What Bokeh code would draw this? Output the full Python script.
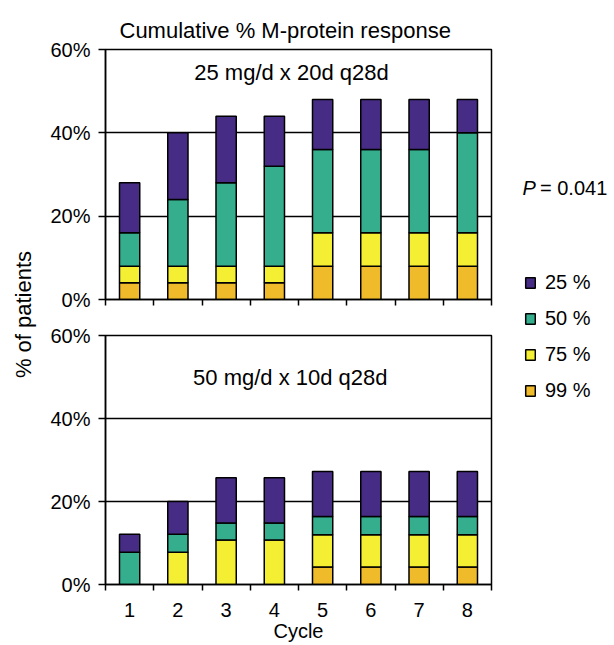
import math
from bokeh.plotting import figure
from bokeh.models import Range1d, FixedTicker, Label, Legend, LegendItem, ColumnDataSource
from bokeh.layouts import row, column
from bokeh.embed import file_html
from bokeh.resources import INLINE

FONT = "Liberation Sans"
INK = "black"

# ---- data ----
cycles = ["1", "2", "3", "4", "5", "6", "7", "8"]
levels = ["99 %", "75 %", "50 %", "25 %"]          # stacking order, bottom -> top
legend_order = ["25 %", "50 %", "75 %", "99 %"]
colors = {"25 %": "#472C85", "50 %": "#35AE8E", "75 %": "#F5EF33", "99 %": "#EFBB2A"}

# cumulative % of patients (top of each stacked segment)
top_99 = [4, 4, 4, 4, 8, 8, 8, 8]
top_75 = [8, 8, 8, 8, 16, 16, 16, 16]
top_50 = [16, 24, 28, 32, 36, 36, 36, 40]
top_25 = [28, 40, 44, 44, 48, 48, 48, 48]

bot_99 = [0, 0, 0, 0, 4.2, 4.2, 4.2, 4.2]
bot_75 = [0, 7.8, 10.7, 10.7, 12, 12, 12, 12]
bot_50 = [7.8, 12.1, 14.8, 14.8, 16.4, 16.4, 16.4, 16.4]
bot_25 = [12.1, 20, 25.7, 25.7, 27.2, 27.2, 27.2, 27.2]

y_ticks = [0, 20, 40, 60]
grid_ticks = [20, 40]
title_text = "Cumulative % M-protein response"
top_label = "25 mg/d x 20d q28d"
bottom_label = "50 mg/d x 10d q28d"
p_text = "= 0.041"

x_centers = [i + 0.5 for i in range(len(cycles))]
x_bounds = [float(i) for i in range(len(cycles) + 1)]


def panel(cums, width, height, mb_left, mb_right, mb_top, mb_bottom, show_labels):
    p = figure(width=width, height=height, x_range=Range1d(0, len(cycles)),
               y_range=Range1d(0, 60), output_backend="svg", toolbar_location=None,
               min_border_left=mb_left, min_border_right=mb_right,
               min_border_top=mb_top, min_border_bottom=mb_bottom)
    p.background_fill_color = "white"
    p.border_fill_color = "white"
    p.outline_line_color = INK
    p.outline_line_width = 1.5
    p.outline_line_alpha = 1.0
    prev = [0] * len(cycles)
    for lev, cum in zip(levels, cums):
        src = ColumnDataSource(dict(x=x_centers, bottom=prev, top=cum, cycle=cycles))
        p.vbar(x="x", bottom="bottom", top="top", width=0.42, source=src,
               fill_color=colors[lev], line_color=INK, line_width=1.5)
        prev = cum
    # grid
    p.xgrid.visible = False
    p.ygrid.ticker = FixedTicker(ticks=grid_ticks)
    p.ygrid.grid_line_color = INK
    p.ygrid.grid_line_width = 1.5
    # y axis
    ya = p.yaxis[0]
    ya.ticker = FixedTicker(ticks=y_ticks)
    ya.major_label_overrides = {t: f"{t}%" for t in y_ticks}
    ya.major_tick_out = 7
    ya.major_tick_in = 0
    ya.minor_tick_line_color = None
    ya.major_label_standoff = 8
    ya.axis_line_width = 1.5
    ya.axis_line_color = INK
    ya.major_tick_line_width = 1.5
    ya.major_tick_line_color = INK
    ya.major_label_text_font = FONT
    ya.major_label_text_font_size = "20px"
    ya.major_label_text_color = INK
    # x axis
    xa = p.xaxis[0]
    xa.ticker = FixedTicker(ticks=x_centers, minor_ticks=x_bounds)
    xa.major_tick_in = 0
    xa.major_tick_out = 0
    xa.major_tick_line_color = None
    xa.minor_tick_in = 0
    xa.minor_tick_out = 6
    xa.minor_tick_line_width = 1.5
    xa.minor_tick_line_color = INK
    xa.axis_line_width = 1.5
    xa.axis_line_color = INK
    xa.major_label_text_font = FONT
    xa.major_label_text_color = INK
    if show_labels:
        xa.major_label_overrides = {x: c for x, c in zip(x_centers, cycles)}
        xa.major_label_text_font_size = "20px"
        xa.major_label_standoff = 12
        xa.axis_label = "Cycle"
        xa.axis_label_text_font = FONT
        xa.axis_label_text_font_size = "20px"
        xa.axis_label_text_font_style = "normal"
        xa.axis_label_text_color = INK
        xa.axis_label_standoff = 0
    else:
        xa.major_label_overrides = {x: "" for x in x_centers}
        xa.major_label_text_font_size = "1px"
        xa.major_label_standoff = 0
    return p


def panel_label(text, x, y):
    return Label(x=x, y=y, text=text, text_align="center", text_baseline="middle",
                 text_font=FONT, text_font_size="22px", text_color=INK)


top = panel([top_99, top_75, top_50, top_25], 460, 317, 65, 9, 49, 18, False)
top.title.text = title_text
top.title.text_font = FONT
top.title.text_font_size = "22px"
top.title.text_font_style = "normal"
top.title.text_color = INK
top.title.align = "left"
top.title.offset = 14
top.title.standoff = 13
top.add_layout(panel_label(top_label, 3.855, 54.5))

bottom = panel([bot_99, bot_75, bot_50, bot_25], 460, 328, 65, 6, 18, 61, True)
bottom.add_layout(panel_label(bottom_label, 3.83, 49.9))

# left strip with the shared y-axis title
lf = figure(width=40, height=645, x_range=Range1d(0, 40), y_range=Range1d(645, 0),
            output_backend="svg", toolbar_location=None, min_border=0)
lf.axis.visible = False
lf.grid.visible = False
lf.outline_line_color = None
lf.add_layout(Label(x=23, y=314, text="% of patients", angle=math.pi / 2,
                    text_align="center", text_baseline="middle", text_color=INK,
                    text_font=FONT, text_font_size="22px"))

# right strip with P value and legend
rf = figure(width=114, height=645, x_range=Range1d(0, 114), y_range=Range1d(645, 0),
            output_backend="svg", toolbar_location=None, min_border=0)
rf.axis.visible = False
rf.grid.visible = False
rf.outline_line_color = None
rf.add_layout(Label(x=22, y=187, text="P", text_font=FONT, text_font_size="20px",
                    text_font_style="italic", text_baseline="alphabetic", text_color=INK))
rf.add_layout(Label(x=39.5, y=187, text=p_text, text_font=FONT, text_font_size="20px",
                    text_baseline="alphabetic", text_color=INK))
items = []
for lev in legend_order:
    # hidden proxy renderer, used only for its legend swatch
    r = rf.vbar(x=[57], bottom=[300], top=[301], width=1, fill_color=colors[lev],
                line_color=INK, line_width=1.5)
    r.visible = False
    items.append(LegendItem(label=lev, renderers=[r]))
legend = Legend(items=items, location=(24, 243), glyph_width=12, glyph_height=13,
                label_standoff=9, spacing=13, padding=0, margin=0,
                border_line_color=None, background_fill_alpha=0,
                label_text_font=FONT, label_text_font_size="20px", label_height=23,
                label_text_color=INK, inactive_fill_alpha=0)
rf.add_layout(legend)

layout = row(lf, column(top, bottom), rf)

open("out.html", "w").write(file_html(layout, INLINE))
